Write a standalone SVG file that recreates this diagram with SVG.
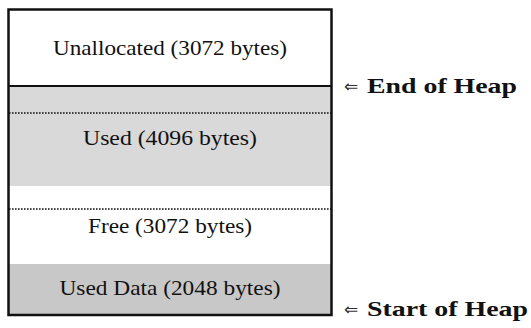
<svg xmlns="http://www.w3.org/2000/svg" width="531" height="328" viewBox="0 0 531 328">
<style>
.t{font-family:"Liberation Serif","Times New Roman",serif;font-size:21px;fill:#111;text-anchor:middle}
.lbl{font-family:"Liberation Serif","Times New Roman",serif;font-size:22px;font-weight:bold;fill:#111}
.arr{font-family:"DejaVu Sans",sans-serif;font-size:17px;fill:#333}
.dot{stroke:#111;stroke-width:1.6;stroke-dasharray:1.6 1.4;fill:none}
</style>
<rect x="0" y="0" width="531" height="328" fill="#fff"/>
<g id="used">
<rect x="9" y="86" width="322" height="100" fill="#d9d9d9"/>
<line class="dot" x1="9" y1="113" x2="331" y2="113"/>
<text class="t" x="170" y="145" textLength="174" lengthAdjust="spacingAndGlyphs">Used (4096 bytes)</text>
</g>
<g id="free">
<line class="dot" x1="9" y1="209" x2="331" y2="209"/>
<text class="t" x="170" y="233" textLength="164" lengthAdjust="spacingAndGlyphs">Free (3072 bytes)</text>
</g>
<g id="used-data">
<rect x="9" y="264" width="322" height="51" fill="#c8c8c8"/>
<text class="t" x="170" y="295" textLength="221" lengthAdjust="spacingAndGlyphs">Used Data (2048 bytes)</text>
</g>
<g id="unallocated">
<text class="t" x="170" y="55" textLength="234" lengthAdjust="spacingAndGlyphs">Unallocated (3072 bytes)</text>
<line x1="8" y1="86" x2="332" y2="86" stroke="#111" stroke-width="2"/>
</g>
<g id="heap-box">
<rect x="8.5" y="9.5" width="323" height="305.5" fill="none" stroke="#111" stroke-width="2.5"/>
</g>
<g id="end-label">
<text class="arr" x="344" y="92">⇐</text>
<text class="lbl" x="367" y="93" textLength="150" lengthAdjust="spacingAndGlyphs">End of Heap</text>
</g>
<g id="start-label">
<text class="arr" x="344" y="315">⇐</text>
<text class="lbl" x="367" y="316" textLength="161" lengthAdjust="spacingAndGlyphs">Start of Heap</text>
</g>
</svg>
